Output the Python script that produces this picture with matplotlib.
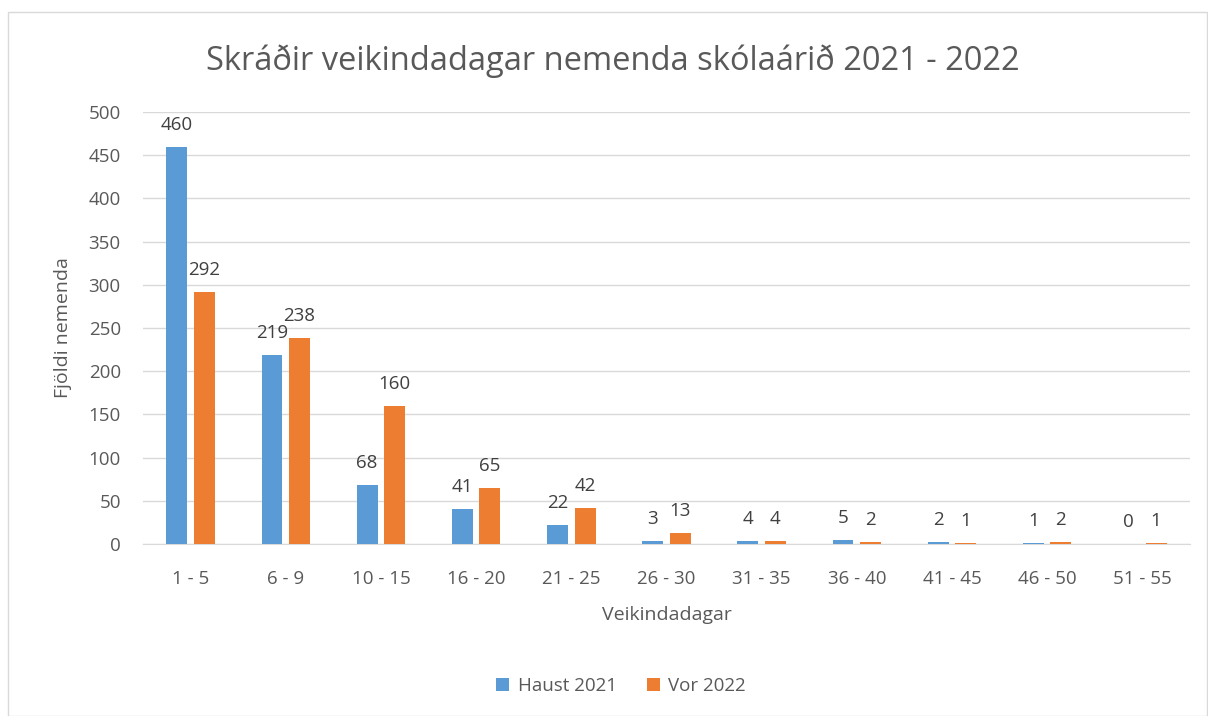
import matplotlib.pyplot as plt
import numpy as np

plt.rcParams['font.family'] = ['Open Sans', 'DejaVu Sans']

categories = ['1 - 5', '6 - 9', '10 - 15', '16 - 20', '21 - 25', '26 - 30',
              '31 - 35', '36 - 40', '41 - 45', '46 - 50', '51 - 55']
haust_2021 = [460, 219, 68, 41, 22, 3, 4, 5, 2, 1, 0]
vor_2022 = [292, 238, 160, 65, 42, 13, 4, 2, 1, 2, 1]

text_col = '#595959'
blue = '#5B9BD5'
orange = '#ED7D31'

fig = plt.figure(figsize=(12.08, 7.16), dpi=100)
ax = fig.add_axes([0.1184, 0.2402, 0.8666, 0.6034])

x = np.arange(len(categories))
w = 0.22
off = 0.145
ax.bar(x - off, haust_2021, w, color=blue, label='Haust 2021', zorder=3)
ax.bar(x + off, vor_2022, w, color=orange, label='Vor 2022', zorder=3)

for xi, v in zip(x, haust_2021):
    ax.text(xi - off, v + 15, str(v), ha='center', va='bottom', fontsize=13.5, color='#404040')
for xi, v in zip(x, vor_2022):
    ax.text(xi + off, v + 15, str(v), ha='center', va='bottom', fontsize=13.5, color='#404040')

ax.set_xlim(-0.5, len(categories) - 0.5)
ax.set_ylim(0, 500)
ax.set_yticks(range(0, 501, 50))
ax.set_xticks(x)
ax.set_xticklabels(categories)
ax.yaxis.grid(True, color='#D9D9D9', linewidth=1, zorder=0)
for s in ['top', 'right', 'left']:
    ax.spines[s].set_visible(False)
ax.spines['bottom'].set_color('#D9D9D9')
ax.tick_params(axis='both', length=0, labelsize=13.5, colors=text_col)
ax.tick_params(axis='y', pad=16)
ax.tick_params(axis='x', pad=19)

ax.set_xlabel('Veikindadagar', fontsize=14, color=text_col, labelpad=13)
ax.set_ylabel('Fjöldi nemenda', fontsize=14, color=text_col, labelpad=12)

fig.text(0.507, 0.915, 'Skráðir veikindadagar nemenda skólaárið 2021 - 2022',
         ha='center', va='center', fontsize=23.5, color=text_col)

fig.legend(loc='center', bbox_to_anchor=(0.514, 0.042), ncol=2, frameon=False,
           fontsize=13.5, labelcolor=text_col, handlelength=0.7, handleheight=0.7,
           columnspacing=1.6, handletextpad=0.45)

border = plt.Rectangle((0.007, 0.0), 0.992, 0.983, transform=fig.transFigure,
                       fill=False, edgecolor='#D9D9D9', linewidth=1)
fig.patches.append(border)

fig.savefig('out.png', dpi=100)
